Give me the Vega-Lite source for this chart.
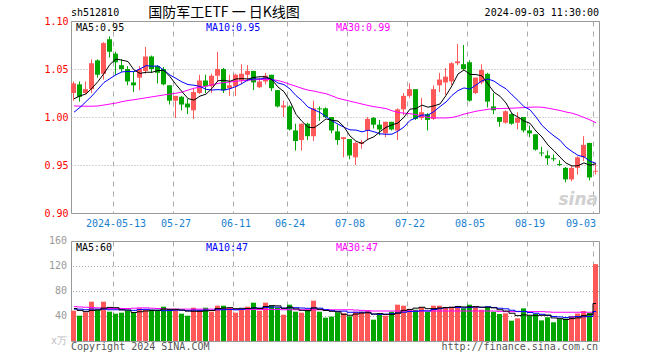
{
  "$schema": "https://vega.github.io/schema/vega-lite/v6.json",
  "autosize": {"type": "pad"},
  "padding": {"left": 43, "top": 5, "right": 5, "bottom": 5},
  "background": "white",
  "config": {
    "view": {"stroke": "#999999", "strokeWidth": 1},
    "font": "DejaVu Sans Mono",
    "axis": {"labelFont": "DejaVu Sans Mono", "labelFontSize": 10, "domain": false, "ticks": false, "title": null, "labelOverlap": false, "labelSeparation": 0}
  },
  "datasets": {
    "k": [
      {"d":"2024-04-29","o":1.025,"h":1.037,"l":1.017,"c":1.035,"v":48.5,"m5":1.019,"m10":1.005,"m30":1.0115,"vm5":52,"vm10":51,"vm30":55},
      {"d":"2024-04-30","o":1.034,"h":1.037,"l":1.016,"c":1.021,"v":40.5,"m5":1.022,"m10":1.010,"m30":1.0113,"vm5":49,"vm10":51,"vm30":54.5},
      {"d":"2024-05-06","o":1.025,"h":1.037,"l":1.024,"c":1.029,"v":45.9,"m5":1.024,"m10":1.016,"m30":1.0112,"vm5":47,"vm10":50,"vm30":54},
      {"d":"2024-05-07","o":1.029,"h":1.060,"l":1.025,"c":1.056,"v":62.9,"m5":1.030,"m10":1.022,"m30":1.0112,"vm5":49,"vm10":51,"vm30":53.5},
      {"d":"2024-05-08","o":1.059,"h":1.060,"l":1.041,"c":1.044,"v":50.1,"m5":1.037,"m10":1.029,"m30":1.0115,"vm5":49.6,"vm10":51,"vm30":53},
      {"d":"2024-05-09","o":1.045,"h":1.078,"l":1.039,"c":1.077,"v":62.9,"m5":1.0454,"m10":1.036,"m30":1.0125,"vm5":52.5,"vm10":51,"vm30":52.5},
      {"d":"2024-05-10","o":1.081,"h":1.084,"l":1.062,"c":1.068,"v":46.9,"m5":1.0548,"m10":1.040,"m30":1.0135,"vm5":53.7,"vm10":50,"vm30":52},
      {"d":"2024-05-13","o":1.066,"h":1.068,"l":1.044,"c":1.057,"v":43.7,"m5":1.0604,"m10":1.044,"m30":1.0145,"vm5":53.3,"vm10":50,"vm30":52},
      {"d":"2024-05-14","o":1.054,"h":1.060,"l":1.047,"c":1.050,"v":45.3,"m5":1.0592,"m10":1.047,"m30":1.016,"vm5":49.8,"vm10":50,"vm30":52},
      {"d":"2024-05-15","o":1.050,"h":1.053,"l":1.033,"c":1.037,"v":48.0,"m5":1.0578,"m10":1.0474,"m30":1.0172,"vm5":49.4,"vm10":49.5,"vm30":52},
      {"d":"2024-05-16","o":1.036,"h":1.047,"l":1.026,"c":1.033,"v":44.8,"m5":1.049,"m10":1.0472,"m30":1.018,"vm5":45.7,"vm10":49.1,"vm30":52.5},
      {"d":"2024-05-17","o":1.041,"h":1.053,"l":1.028,"c":1.050,"v":52.3,"m5":1.0454,"m10":1.0501,"m30":1.019,"vm5":46.8,"vm10":50.3,"vm30":53},
      {"d":"2024-05-20","o":1.048,"h":1.073,"l":1.045,"c":1.063,"v":50.1,"m5":1.0466,"m10":1.0535,"m30":1.020,"vm5":48.1,"vm10":50.7,"vm30":53},
      {"d":"2024-05-21","o":1.063,"h":1.064,"l":1.046,"c":1.050,"v":50.1,"m5":1.0466,"m10":1.0529,"m30":1.021,"vm5":49.1,"vm10":49.4,"vm30":52.5},
      {"d":"2024-05-22","o":1.053,"h":1.054,"l":1.035,"c":1.046,"v":48.5,"m5":1.0484,"m10":1.0531,"m30":1.022,"vm5":49.2,"vm10":49.3,"vm30":52},
      {"d":"2024-05-23","o":1.050,"h":1.052,"l":1.033,"c":1.034,"v":54.9,"m5":1.0486,"m10":1.0488,"m30":1.023,"vm5":51.2,"vm10":48.5,"vm30":51.5},
      {"d":"2024-05-24","o":1.033,"h":1.033,"l":1.013,"c":1.017,"v":50.1,"m5":1.042,"m10":1.0437,"m30":1.0238,"vm5":50.7,"vm10":48.8,"vm30":51},
      {"d":"2024-05-27","o":1.017,"h":1.022,"l":0.999,"c":1.022,"v":50.1,"m5":1.0338,"m10":1.0402,"m30":1.0248,"vm5":50.7,"vm10":49.4,"vm30":51},
      {"d":"2024-05-28","o":1.021,"h":1.022,"l":1.007,"c":1.013,"v":43.7,"m5":1.0264,"m10":1.0365,"m30":1.026,"vm5":49.5,"vm10":49.3,"vm30":51},
      {"d":"2024-05-29","o":1.014,"h":1.019,"l":1.003,"c":1.010,"v":40.5,"m5":1.0192,"m10":1.0338,"m30":1.028,"vm5":47.9,"vm10":48.5,"vm30":51},
      {"d":"2024-05-30","o":1.007,"h":1.030,"l":0.998,"c":1.026,"v":53.3,"m5":1.0176,"m10":1.0331,"m30":1.030,"vm5":47.5,"vm10":49.4,"vm30":51},
      {"d":"2024-05-31","o":1.025,"h":1.044,"l":1.024,"c":1.038,"v":50.1,"m5":1.0218,"m10":1.0319,"m30":1.031,"vm5":47.5,"vm10":49.1,"vm30":51},
      {"d":"2024-06-03","o":1.038,"h":1.044,"l":1.025,"c":1.032,"v":53.3,"m5":1.0238,"m10":1.0288,"m30":1.032,"vm5":48.2,"vm10":49.5,"vm30":51},
      {"d":"2024-06-04","o":1.032,"h":1.045,"l":1.025,"c":1.043,"v":46.9,"m5":1.0298,"m10":1.0281,"m30":1.0335,"vm5":48.8,"vm10":49.1,"vm30":51},
      {"d":"2024-06-05","o":1.043,"h":1.068,"l":1.037,"c":1.050,"v":56.5,"m5":1.0378,"m10":1.0285,"m30":1.035,"vm5":52.0,"vm10":49.9,"vm30":51},
      {"d":"2024-06-06","o":1.050,"h":1.051,"l":1.025,"c":1.028,"v":56.5,"m5":1.0382,"m10":1.0279,"m30":1.0358,"vm5":52.7,"vm10":50.1,"vm30":51},
      {"d":"2024-06-07","o":1.030,"h":1.044,"l":1.022,"c":1.033,"v":53.3,"m5":1.0372,"m10":1.0295,"m30":1.0365,"vm5":53.3,"vm10":50.4,"vm30":51},
      {"d":"2024-06-11","o":1.032,"h":1.045,"l":1.022,"c":1.044,"v":45.3,"m5":1.0396,"m10":1.0317,"m30":1.0372,"vm5":51.7,"vm10":49.9,"vm30":50.5},
      {"d":"2024-06-12","o":1.038,"h":1.055,"l":1.034,"c":1.045,"v":50.1,"m5":1.040,"m10":1.0349,"m30":1.0378,"vm5":52.3,"vm10":50.6,"vm30":50.5},
      {"d":"2024-06-13","o":1.044,"h":1.054,"l":1.037,"c":1.048,"v":54.9,"m5":1.0396,"m10":1.0387,"m30":1.0383,"vm5":52.0,"vm10":52.0,"vm30":50.5},
      {"d":"2024-06-14","o":1.048,"h":1.048,"l":1.028,"c":1.036,"v":61.3,"m5":1.0412,"m10":1.0397,"m30":1.0388,"vm5":53.0,"vm10":52.8,"vm30":50.5},
      {"d":"2024-06-17","o":1.031,"h":1.041,"l":1.030,"c":1.037,"v":48.5,"m5":1.042,"m10":1.0396,"m30":1.039,"vm5":52.0,"vm10":52.7,"vm30":50.5},
      {"d":"2024-06-18","o":1.037,"h":1.046,"l":1.034,"c":1.043,"v":61.3,"m5":1.0418,"m10":1.0407,"m30":1.039,"vm5":55.2,"vm10":53.5,"vm30":50.5},
      {"d":"2024-06-19","o":1.044,"h":1.044,"l":1.027,"c":1.030,"v":56.5,"m5":1.0388,"m10":1.0394,"m30":1.039,"vm5":56.5,"vm10":54.4,"vm30":50.5},
      {"d":"2024-06-20","o":1.028,"h":1.028,"l":1.010,"c":1.011,"v":53.3,"m5":1.0312,"m10":1.0354,"m30":1.038,"vm5":56.2,"vm10":54.1,"vm30":50.5},
      {"d":"2024-06-21","o":1.010,"h":1.017,"l":1.000,"c":1.012,"v":42.1,"m5":1.0264,"m10":1.0338,"m30":1.0362,"vm5":52.3,"vm10":52.7,"vm30":50},
      {"d":"2024-06-24","o":1.011,"h":1.012,"l":0.986,"c":0.987,"v":58.1,"m5":1.0164,"m10":1.0292,"m30":1.034,"vm5":54.3,"vm10":53.1,"vm30":50},
      {"d":"2024-06-25","o":0.986,"h":0.993,"l":0.965,"c":0.975,"v":46.9,"m5":1.0028,"m10":1.0223,"m30":1.032,"vm5":51.4,"vm10":53.3,"vm30":50},
      {"d":"2024-06-26","o":0.976,"h":0.993,"l":0.965,"c":0.993,"v":45.3,"m5":0.9954,"m10":1.0171,"m30":1.0298,"vm5":49.1,"vm10":52.8,"vm30":50},
      {"d":"2024-06-27","o":0.993,"h":0.994,"l":0.976,"c":0.980,"v":50.1,"m5":0.9894,"m10":1.0103,"m30":1.028,"vm5":48.5,"vm10":52.3,"vm30":50},
      {"d":"2024-06-28","o":0.980,"h":1.017,"l":0.975,"c":1.009,"v":64.5,"m5":0.9888,"m10":1.0076,"m30":1.027,"vm5":53.0,"vm10":52.7,"vm30":50},
      {"d":"2024-07-01","o":1.009,"h":1.011,"l":0.996,"c":1.008,"v":46.9,"m5":0.993,"m10":1.0047,"m30":1.0255,"vm5":50.7,"vm10":52.5,"vm30":50},
      {"d":"2024-07-02","o":1.009,"h":1.010,"l":0.999,"c":1.000,"v":37.3,"m5":0.998,"m10":1.0004,"m30":1.0243,"vm5":48.8,"vm10":50.1,"vm30":50},
      {"d":"2024-07-03","o":1.000,"h":1.000,"l":0.983,"c":0.986,"v":39.0,"m5":0.9966,"m10":0.996,"m30":1.022,"vm5":47.6,"vm10":48.4,"vm30":50},
      {"d":"2024-07-04","o":0.985,"h":0.992,"l":0.971,"c":0.976,"v":45.9,"m5":0.9958,"m10":0.9926,"m30":1.0195,"vm5":46.7,"vm10":47.6,"vm30":50},
      {"d":"2024-07-05","o":0.977,"h":0.979,"l":0.958,"c":0.979,"v":44.3,"m5":0.9898,"m10":0.9893,"m30":1.018,"vm5":42.7,"vm10":47.8,"vm30":50},
      {"d":"2024-07-08","o":0.977,"h":0.977,"l":0.956,"c":0.960,"v":39.5,"m5":0.9802,"m10":0.9866,"m30":1.0165,"vm5":41.2,"vm10":46.0,"vm30":50},
      {"d":"2024-07-09","o":0.958,"h":0.974,"l":0.950,"c":0.973,"v":46.9,"m5":0.9748,"m10":0.9864,"m30":1.015,"vm5":43.1,"vm10":46.0,"vm30":49.5},
      {"d":"2024-07-10","o":0.972,"h":0.976,"l":0.967,"c":0.974,"v":46.9,"m5":0.9724,"m10":0.9845,"m30":1.0135,"vm5":44.7,"vm10":46.1,"vm30":49},
      {"d":"2024-07-11","o":0.986,"h":1.000,"l":0.976,"c":0.998,"v":48.5,"m5":0.9768,"m10":0.9863,"m30":1.012,"vm5":45.2,"vm10":46.0,"vm30":48.5},
      {"d":"2024-07-12","o":0.999,"h":1.000,"l":0.988,"c":0.992,"v":34.1,"m5":0.9794,"m10":0.9846,"m30":1.0108,"vm5":43.2,"vm10":42.9,"vm30":48},
      {"d":"2024-07-15","o":0.992,"h":0.997,"l":0.981,"c":0.987,"v":43.2,"m5":0.9848,"m10":0.9825,"m30":1.0098,"vm5":43.9,"vm10":42.6,"vm30":48},
      {"d":"2024-07-16","o":0.983,"h":0.995,"l":0.979,"c":0.995,"v":40.5,"m5":0.9892,"m10":0.982,"m30":1.0088,"vm5":42.6,"vm10":42.9,"vm30":48},
      {"d":"2024-07-17","o":0.995,"h":0.995,"l":0.986,"c":0.987,"v":46.9,"m5":0.9918,"m10":0.9821,"m30":1.0065,"vm5":42.6,"vm10":43.7,"vm30":48},
      {"d":"2024-07-18","o":0.986,"h":1.009,"l":0.976,"c":1.008,"v":58.1,"m5":0.9938,"m10":0.9853,"m30":1.0048,"vm5":44.6,"vm10":44.9,"vm30":48},
      {"d":"2024-07-19","o":1.008,"h":1.025,"l":1.002,"c":1.022,"v":56.5,"m5":0.9998,"m10":0.9896,"m30":1.004,"vm5":49.0,"vm10":46.1,"vm30":48},
      {"d":"2024-07-22","o":1.022,"h":1.035,"l":1.020,"c":1.029,"v":51.2,"m5":1.0082,"m10":0.9965,"m30":1.0035,"vm5":50.6,"vm10":47.3,"vm30":48},
      {"d":"2024-07-23","o":1.029,"h":1.029,"l":0.997,"c":0.998,"v":50.1,"m5":1.0088,"m10":0.999,"m30":1.0025,"vm5":52.6,"vm10":47.6,"vm30":48},
      {"d":"2024-07-24","o":0.999,"h":1.020,"l":0.997,"c":1.005,"v":53.9,"m5":1.0124,"m10":1.0021,"m30":1.001,"vm5":54.0,"vm10":48.3,"vm30":48},
      {"d":"2024-07-25","o":1.003,"h":1.004,"l":0.986,"c":0.997,"v":46.9,"m5":1.0102,"m10":1.002,"m30":0.9995,"vm5":51.7,"vm10":48.1,"vm30":48},
      {"d":"2024-07-26","o":0.998,"h":1.033,"l":0.997,"c":1.029,"v":56.5,"m5":1.0116,"m10":1.0057,"m30":0.999,"vm5":51.7,"vm10":50.4,"vm30":48},
      {"d":"2024-07-29","o":1.033,"h":1.046,"l":1.026,"c":1.039,"v":56.5,"m5":1.0136,"m10":1.0109,"m30":0.999,"vm5":52.8,"vm10":51.7,"vm30":48},
      {"d":"2024-07-30","o":1.036,"h":1.051,"l":1.023,"c":1.042,"v":53.9,"m5":1.0224,"m10":1.0156,"m30":0.999,"vm5":53.5,"vm10":53.1,"vm30":48},
      {"d":"2024-07-31","o":1.037,"h":1.057,"l":1.033,"c":1.056,"v":54.9,"m5":1.0326,"m10":1.0225,"m30":0.9995,"vm5":53.7,"vm10":53.9,"vm30":48},
      {"d":"2024-08-01","o":1.056,"h":1.076,"l":1.054,"c":1.058,"v":54.9,"m5":1.0448,"m10":1.0275,"m30":1.001,"vm5":55.3,"vm10":53.5,"vm30":48},
      {"d":"2024-08-02","o":1.055,"h":1.075,"l":1.049,"c":1.050,"v":52.3,"m5":1.049,"m10":1.0303,"m30":1.003,"vm5":54.5,"vm10":53.1,"vm30":48},
      {"d":"2024-08-05","o":1.057,"h":1.059,"l":1.016,"c":1.017,"v":58.1,"m5":1.0444,"m10":1.029,"m30":1.0045,"vm5":54.8,"vm10":53.8,"vm30":48},
      {"d":"2024-08-06","o":1.025,"h":1.041,"l":1.024,"c":1.041,"v":54.9,"m5":1.0442,"m10":1.0333,"m30":1.006,"vm5":55.0,"vm10":54.3,"vm30":48},
      {"d":"2024-08-07","o":1.036,"h":1.055,"l":1.034,"c":1.049,"v":50.1,"m5":1.0428,"m10":1.0377,"m30":1.007,"vm5":54.1,"vm10":53.9,"vm30":48},
      {"d":"2024-08-08","o":1.045,"h":1.046,"l":1.010,"c":1.016,"v":54.9,"m5":1.0344,"m10":1.0396,"m30":1.008,"vm5":54.1,"vm10":54.7,"vm30":48},
      {"d":"2024-08-09","o":1.011,"h":1.025,"l":1.003,"c":1.007,"v":46.9,"m5":1.0258,"m10":1.0374,"m30":1.0087,"vm5":53.0,"vm10":53.7,"vm30":48},
      {"d":"2024-08-12","o":1.000,"h":1.000,"l":0.990,"c":0.995,"v":43.2,"m5":1.0216,"m10":1.033,"m30":1.0088,"vm5":50.0,"vm10":52.4,"vm30":47.5},
      {"d":"2024-08-13","o":0.994,"h":1.007,"l":0.993,"c":1.006,"v":44.3,"m5":1.0146,"m10":1.0294,"m30":1.009,"vm5":47.9,"vm10":51.5,"vm30":47},
      {"d":"2024-08-14","o":1.003,"h":1.004,"l":0.992,"c":0.993,"v":32.5,"m5":1.0034,"m10":1.0231,"m30":1.0092,"vm5":44.4,"vm10":49.2,"vm30":47},
      {"d":"2024-08-15","o":0.994,"h":1.005,"l":0.987,"c":0.999,"v":36.3,"m5":1.000,"m10":1.0172,"m30":1.0095,"vm5":40.6,"vm10":47.4,"vm30":47},
      {"d":"2024-08-16","o":1.000,"h":1.000,"l":0.984,"c":0.986,"v":52.3,"m5":0.9958,"m10":1.0108,"m30":1.0098,"vm5":41.7,"vm10":47.4,"vm30":47},
      {"d":"2024-08-19","o":0.986,"h":0.991,"l":0.979,"c":0.983,"v":40.5,"m5":0.9934,"m10":1.0075,"m30":1.0102,"vm5":41.2,"vm10":45.6,"vm30":47},
      {"d":"2024-08-20","o":0.982,"h":0.982,"l":0.965,"c":0.966,"v":43.2,"m5":0.9854,"m10":1.000,"m30":1.0104,"vm5":41.0,"vm10":44.4,"vm30":47},
      {"d":"2024-08-21","o":0.963,"h":0.969,"l":0.959,"c":0.962,"v":33,"m5":0.9792,"m10":0.9913,"m30":1.0102,"vm5":41.1,"vm10":42.7,"vm30":47},
      {"d":"2024-08-22","o":0.960,"h":0.965,"l":0.950,"c":0.957,"v":38,"m5":0.9708,"m10":0.9854,"m30":1.0092,"vm5":41.4,"vm10":41.0,"vm30":46.5},
      {"d":"2024-08-23","o":0.957,"h":0.961,"l":0.954,"c":0.956,"v":30,"m5":0.9648,"m10":0.9803,"m30":1.008,"vm5":36.9,"vm10":39.3,"vm30":46},
      {"d":"2024-08-26","o":0.951,"h":0.955,"l":0.949,"c":0.950,"v":35,"m5":0.9582,"m10":0.9758,"m30":1.0068,"vm5":35.8,"vm10":38.5,"vm30":46},
      {"d":"2024-08-27","o":0.947,"h":0.948,"l":0.932,"c":0.935,"v":36,"m5":0.952,"m10":0.9687,"m30":1.0052,"vm5":34.4,"vm10":37.7,"vm30":46},
      {"d":"2024-08-28","o":0.935,"h":0.949,"l":0.933,"c":0.947,"v":40,"m5":0.949,"m10":0.9641,"m30":1.004,"vm5":35.8,"vm10":38.4,"vm30":46},
      {"d":"2024-08-29","o":0.947,"h":0.959,"l":0.940,"c":0.958,"v":44,"m5":0.9492,"m10":0.960,"m30":1.002,"vm5":37.0,"vm10":39.2,"vm30":46},
      {"d":"2024-08-30","o":0.958,"h":0.980,"l":0.954,"c":0.971,"v":48,"m5":0.9522,"m10":0.9585,"m30":0.9995,"vm5":40.6,"vm10":38.8,"vm30":46},
      {"d":"2024-09-02","o":0.973,"h":0.973,"l":0.934,"c":0.937,"v":45,"m5":0.9496,"m10":0.9539,"m30":0.997,"vm5":42.6,"vm10":39.2,"vm30":46},
      {"d":"2024-09-03","o":0.943,"h":0.951,"l":0.940,"c":0.944,"v":123,"m5":0.9514,"m10":0.9517,"m30":0.994,"vm5":60,"vm10":47.2,"vm30":47}
    ]
  },
  "vconcat": [
    {
      "width": 528,
      "height": 192,
      "data": {"name": "k"},
      "encoding": {
        "x": {
          "field": "d", "type": "ordinal",
          "scale": {"paddingInner": 0, "paddingOuter": 0},
          "axis": {
            "values": ["2024-05-13","2024-05-27","2024-06-11","2024-06-24","2024-07-08","2024-07-22","2024-08-05","2024-08-19","2024-09-03"],
            "bandPosition": 0,
            "labelExpr": "datum.value == '2024-05-13' ? datum.value : slice(datum.value, 5)",
            "labelColor": "#1a80d0",
            "labelAngle": 0,
            "labelPadding": 5,
            "labelAlign": {"condition": {"test": "datum.value == '2024-09-03'", "value": "right"}, "value": "center"},
            "grid": true, "gridColor": "#aaaaaa", "gridDash": [5, 5]
          }
        }
      },
      "layer": [
        {
          "mark": {"type": "rule", "strokeWidth": 1, "xOffset": -0.5},
          "encoding": {
            "y": {
              "field": "l", "type": "quantitative",
              "scale": {"domain": [0.9, 1.1], "zero": false, "nice": false},
              "axis": {
                "values": [0.9, 0.95, 1.0, 1.05, 1.1],
                "format": ".2f",
                "labelColor": "#ff0000",
                "labelPadding": 3,
                "grid": true, "gridColor": "#aaaaaa", "gridDash": [1, 2],
                "gridOpacity": {"condition": {"test": "datum.value < 0.91 || datum.value > 1.09", "value": 0}, "value": 1}
              }
            },
            "y2": {"field": "h"},
            "color": {"condition": {"test": "datum.c >= datum.o", "value": "#ff5858"}, "value": "#00a600"}
          }
        },
        {
          "mark": {"type": "bar", "size": 5, "xOffset": -0.5},
          "encoding": {
            "y": {"field": "o", "type": "quantitative"},
            "y2": {"field": "c"},
            "color": {"condition": {"test": "datum.c >= datum.o", "value": "#ff5858"}, "value": "#00a600"}
          }
        },
        {
          "mark": {"type": "line", "color": "#ff00ff", "strokeWidth": 1},
          "encoding": {"y": {"field": "m30", "type": "quantitative"}}
        },
        {
          "mark": {"type": "line", "color": "#0000ff", "strokeWidth": 1},
          "encoding": {"y": {"field": "m10", "type": "quantitative"}}
        },
        {
          "mark": {"type": "line", "color": "#000000", "strokeWidth": 1},
          "encoding": {"y": {"field": "m5", "type": "quantitative"}}
        },
        {
          "data": {"values": [{}]},
          "mark": {"type": "text", "text": "sh512810", "align": "left", "baseline": "middle", "dx": -3, "fontSize": 10, "color": "#000000"},
          "encoding": {"x": {"datum": "2024-04-29", "type": "ordinal"}, "y": {"datum": 1.1085, "type": "quantitative"}}
        },
        {
          "data": {"values": [{}]},
          "mark": {"type": "text", "text": "国防军工ETF 一 日K线图", "align": "center", "baseline": "middle", "font": "Noto Sans CJK SC", "fontSize": 14, "color": "#000000"},
          "encoding": {"x": {"datum": "2024-06-06", "type": "ordinal"}, "y": {"datum": 1.1085, "type": "quantitative"}}
        },
        {
          "data": {"values": [{}]},
          "mark": {"type": "text", "text": "2024-09-03 11:30:00", "align": "right", "baseline": "middle", "dx": 3, "fontSize": 10, "color": "#000000"},
          "encoding": {"x": {"datum": "2024-09-03", "type": "ordinal"}, "y": {"datum": 1.1085, "type": "quantitative"}}
        },
        {
          "data": {"values": [{}]},
          "mark": {"type": "text", "text": "MA5:0.95", "align": "left", "baseline": "top", "dx": 2, "dy": 2, "fontSize": 10, "color": "#000000"},
          "encoding": {"x": {"datum": "2024-04-29", "type": "ordinal"}, "y": {"datum": 1.1, "type": "quantitative"}}
        },
        {
          "data": {"values": [{}]},
          "mark": {"type": "text", "text": "MA10:0.95", "align": "left", "baseline": "top", "dx": 0, "dy": 2, "fontSize": 10, "color": "#0000ff"},
          "encoding": {"x": {"datum": "2024-06-03", "type": "ordinal"}, "y": {"datum": 1.1, "type": "quantitative"}}
        },
        {
          "data": {"values": [{}]},
          "mark": {"type": "text", "text": "MA30:0.99", "align": "left", "baseline": "top", "dx": -2, "dy": 2, "fontSize": 10, "color": "#ff00ff"},
          "encoding": {"x": {"datum": "2024-07-04", "type": "ordinal"}, "y": {"datum": 1.1, "type": "quantitative"}}
        },
        {
          "data": {"values": [{}]},
          "mark": {"type": "text", "text": "sina", "align": "right", "baseline": "middle", "dx": 2, "font": "DejaVu Sans", "fontSize": 17, "fontWeight": "bold", "fontStyle": "italic", "color": "#d0d0d0"},
          "encoding": {"x": {"datum": "2024-09-03", "type": "ordinal"}, "y": {"datum": 0.9135, "type": "quantitative"}}
        }
      ]
    },
    {
      "width": 528,
      "height": 100,
      "layer": [
        {
          "data": {"values": [{"t": 40}, {"t": 80}, {"t": 120}]},
          "mark": {"type": "rule", "color": "#aaaaaa", "strokeWidth": 1, "strokeDash": [1, 2], "yOffset": 0.5},
          "encoding": {"y": {"field": "t", "type": "quantitative"}}
        },
        {
          "data": {"name": "k"},
          "mark": {"type": "bar", "size": 5, "xOffset": -0.5},
          "encoding": {
            "x": {
              "field": "d", "type": "ordinal",
              "scale": {"paddingInner": 0, "paddingOuter": 0},
              "axis": {
                "values": ["2024-05-13","2024-05-27","2024-06-11","2024-06-24","2024-07-08","2024-07-22","2024-08-05","2024-08-19","2024-09-03"],
                "bandPosition": 0,
                "labels": false,
                "grid": true, "gridColor": "#aaaaaa", "gridDash": [5, 5]
              }
            },
            "y": {
              "field": "v", "type": "quantitative",
              "stack": null,
              "scale": {"domain": [0, 160], "nice": false},
              "axis": {"labels": false, "grid": false}
            },
            "color": {"condition": {"test": "datum.c >= datum.o", "value": "#ff5858"}, "value": "#00a600"}
          }
        },
        {
          "data": {"name": "k"},
          "mark": {"type": "line", "color": "#ff00ff", "strokeWidth": 1, "interpolate": "step"},
          "encoding": {"x": {"field": "d", "type": "ordinal"}, "y": {"field": "vm30", "type": "quantitative"}}
        },
        {
          "data": {"name": "k"},
          "mark": {"type": "line", "color": "#0000ff", "strokeWidth": 1, "interpolate": "step"},
          "encoding": {"x": {"field": "d", "type": "ordinal"}, "y": {"field": "vm10", "type": "quantitative"}}
        },
        {
          "data": {"name": "k"},
          "mark": {"type": "line", "color": "#000000", "strokeWidth": 1, "interpolate": "step"},
          "encoding": {"x": {"field": "d", "type": "ordinal"}, "y": {"field": "vm5", "type": "quantitative"}}
        },
        {
          "data": {"values": [{"t": 40}, {"t": 80}, {"t": 120}, {"t": 160}]},
          "mark": {"type": "text", "align": "right", "baseline": "middle", "dx": -7, "fontSize": 10, "color": "#999999"},
          "encoding": {"x": {"datum": "2024-04-29", "type": "ordinal"}, "y": {"field": "t", "type": "quantitative"}, "text": {"field": "t", "type": "quantitative"}}
        },
        {
          "data": {"values": [{}]},
          "mark": {"type": "text", "text": "x万", "align": "right", "baseline": "middle", "dx": -7, "fontSize": 10, "color": "#bbbbbb"},
          "encoding": {"x": {"datum": "2024-04-29", "type": "ordinal"}, "y": {"datum": 0, "type": "quantitative"}}
        },
        {
          "data": {"values": [{}]},
          "mark": {"type": "text", "text": "MA5:60", "align": "left", "baseline": "top", "dx": 2, "dy": 2, "fontSize": 10, "color": "#000000"},
          "encoding": {"x": {"datum": "2024-04-29", "type": "ordinal"}, "y": {"datum": 160, "type": "quantitative"}}
        },
        {
          "data": {"values": [{}]},
          "mark": {"type": "text", "text": "MA10:47", "align": "left", "baseline": "top", "dx": 0, "dy": 2, "fontSize": 10, "color": "#0000ff"},
          "encoding": {"x": {"datum": "2024-06-03", "type": "ordinal"}, "y": {"datum": 160, "type": "quantitative"}}
        },
        {
          "data": {"values": [{}]},
          "mark": {"type": "text", "text": "MA30:47", "align": "left", "baseline": "top", "dx": -2, "dy": 2, "fontSize": 10, "color": "#ff00ff"},
          "encoding": {"x": {"datum": "2024-07-04", "type": "ordinal"}, "y": {"datum": 160, "type": "quantitative"}}
        },
        {
          "data": {"values": [{}]},
          "mark": {"type": "text", "text": "Copyright 2024 SINA.COM", "align": "left", "baseline": "middle", "dx": -3, "fontSize": 10, "color": "#555555"},
          "encoding": {"x": {"datum": "2024-04-29", "type": "ordinal"}, "y": {"datum": -9.6, "type": "quantitative"}}
        },
        {
          "data": {"values": [{}]},
          "mark": {"type": "text", "text": "http://finance.sina.com.cn", "align": "right", "baseline": "middle", "dx": 2, "fontSize": 10, "color": "#555555"},
          "encoding": {"x": {"datum": "2024-09-03", "type": "ordinal"}, "y": {"datum": -9.6, "type": "quantitative"}}
        }
      ]
    }
  ],
  "spacing": 28,
  "bounds": "flush"
}
